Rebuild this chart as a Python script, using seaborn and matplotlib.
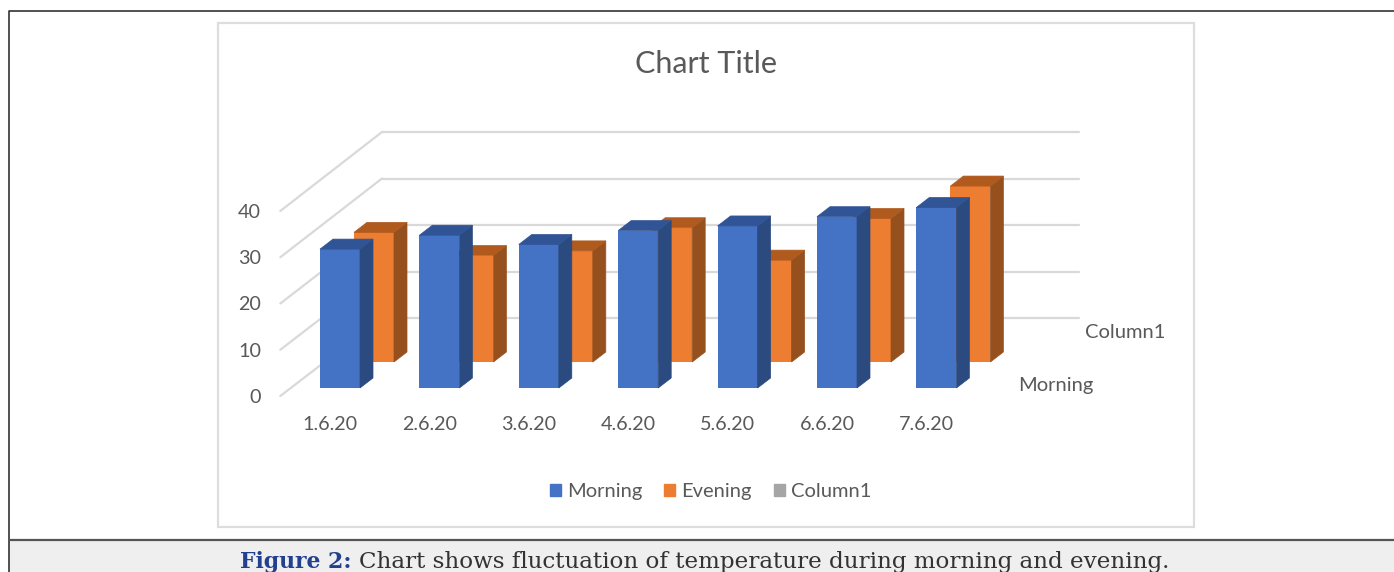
import matplotlib
matplotlib.use("Agg")
import matplotlib.pyplot as plt
from matplotlib.patches import ConnectionPatch, Patch, Polygon, Rectangle
import seaborn as sns

# === DATA ===
dates = ["1.6.20", "2.6.20", "3.6.20", "4.6.20", "5.6.20", "6.6.20", "7.6.20"]
morning = [30, 33, 31, 34, 35, 37, 39]
evening = [28, 23, 24, 29, 22, 31, 38]
y_ticks = [0, 10, 20, 30, 40]

# === COLOURS ===
BLUE, BLUE_SIDE, BLUE_TOP = "#4472C4", "#2A4A80", "#305496"
ORANGE, ORANGE_SIDE, ORANGE_TOP = "#ED7D31", "#96501E", "#B05A1E"
GRAY = "#A5A5A5"
GRID = "#D9D9D9"
TEXT = "#595959"

W, H = 1394, 572
SPACING = 99.4  # px between categories
PX_PER_UNIT = 4.63
DEPTH_X, DEPTH_Y = 13, 10  # px, bar depth in the fake 3D

sns.set_theme(style="white")
plt.rcParams["font.family"] = ["Lato", "DejaVu Sans"]

fig = plt.figure(figsize=(W / 100, H / 100), dpi=100, facecolor="white")


def px_axes(left, bottom, width, height, zorder):
    # axes placed with pixel values measured from the top left corner
    ax = fig.add_axes([left / W, 1 - bottom / H, width / W, height / H], zorder=zorder)
    ax.patch.set_alpha(0)
    for s in ax.spines.values():
        s.set_visible(False)
    return ax


def draw_bars(ax, values, color, side, top):
    sns.barplot(x=dates, y=values, color=color, saturation=1, width=40 / SPACING,
                linewidth=0, ax=ax)
    ax.set_xlim(-0.5, 6.5)
    ax.set_ylim(0, 55)
    ax.axis("off")
    dx = DEPTH_X / SPACING
    dy = DEPTH_Y / PX_PER_UNIT
    for bar in list(ax.patches):
        x0, x1 = bar.get_x(), bar.get_x() + bar.get_width()
        h = bar.get_height()
        # thin edge in the same colour closes the seam against the front face
        ax.add_patch(Polygon([(x1, 0), (x1 + dx, dy), (x1 + dx, h + dy), (x1, h)],
                             facecolor=side, edgecolor=side, lw=0.5, clip_on=False))
        ax.add_patch(Polygon([(x0, h), (x0 + dx, h + dy), (x1 + dx, h + dy), (x1, h)],
                             facecolor=top, edgecolor=top, lw=0.5, clip_on=False))


# === PAGE: frame, chart border, caption band ===
page = fig.add_axes([0, 0, 1, 1], zorder=0)
page.set_xlim(0, W)
page.set_ylim(H, 0)
page.axis("off")
page.add_patch(Rectangle((9, 540), W, 40, facecolor="#EFEFEF", edgecolor="none"))
page.plot([W, 9, 9], [10.5, 10.5, H], color="#333333", lw=1.2)
page.plot([9, W], [540, 540], color="#555555", lw=1.6)
page.add_patch(Rectangle((218, 22.5), 976, 504.5, facecolor="white", edgecolor="#DDDDDD", lw=1.6))

# === BACK WALL ===
wall = px_axes(382, 318, 697, 186, 1)
wall.set_ylim(0, 40)
wall.set_yticks(y_ticks)
wall.set_xticks([])
wall.tick_params(left=False, labelleft=False)
wall.grid(axis="y", color=GRID, lw=1.6, clip_on=False)
wall.set_axisbelow(True)

# === FRONT OF THE FLOOR: axis labels ===
floor = px_axes(280.3, 396, 7 * SPACING, 185, 1)
floor.set_xlim(-0.5, 6.5)
floor.set_ylim(0, 40)
floor.set_yticks(y_ticks)
floor.set_xticks(range(len(dates)), dates)
floor.tick_params(length=0, labelsize=14.2, labelcolor=TEXT)
floor.tick_params(axis="y", pad=14)
floor.tick_params(axis="x", pad=14.5)

for v in y_ticks:
    wall.add_artist(ConnectionPatch((-0.5, v), (0, v), coordsA=floor.transData,
                                    coordsB=wall.transData, color=GRID, lw=1.6))

# === BARS ===
ax_evening = px_axes(324.3, 362, 7 * SPACING, 55 * PX_PER_UNIT, 2)
draw_bars(ax_evening, evening, ORANGE, ORANGE_SIDE, ORANGE_TOP)
ax_morning = px_axes(290.3, 388, 7 * SPACING, 55 * PX_PER_UNIT, 3)
draw_bars(ax_morning, morning, BLUE, BLUE_SIDE, BLUE_TOP)

# === TEXT ===
over = fig.add_axes([0, 0, 1, 1], zorder=4)
over.set_xlim(0, W)
over.set_ylim(H, 0)
over.axis("off")
over.text(706, 64, "Chart Title", ha="center", va="center", fontsize=22, color=TEXT)
over.text(1056, 386, "Morning", ha="center", va="center", fontsize=14.5, color=TEXT)
over.text(1125, 333, "Column1", ha="center", va="center", fontsize=14.5, color=TEXT)

handles = [Patch(color=BLUE, label="Morning"), Patch(color=ORANGE, label="Evening"),
           Patch(color=GRAY, label="Column1")]
over.legend(handles=handles, loc="center", bbox_to_anchor=(710.5 / W, 1 - 491.5 / H), ncol=3,
            frameon=False, fontsize=14.5, labelcolor=TEXT, handlelength=0.55, handleheight=0.55,
            handletextpad=0.3, columnspacing=1.1, borderpad=0)

over.text(240, 568, "Figure 2:", fontsize=15.8, family="DejaVu Serif", weight="bold", color="#22408F")
over.text(359, 568, "Chart shows fluctuation of temperature during morning and evening.",
          fontsize=16.6, family="DejaVu Serif", color="#333333")

fig.savefig("out.png", dpi=100, facecolor="white")
